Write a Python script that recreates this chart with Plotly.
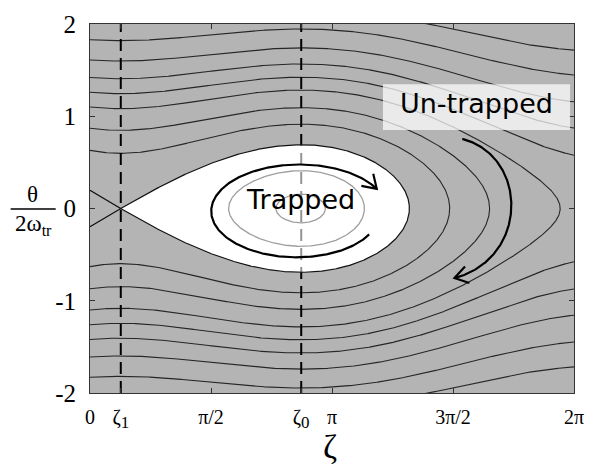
import numpy as np
import plotly.graph_objects as go

# ---------------- values ----------------
SIN_PHI_S = 0.389            # tilt of the bucket: zeta1 = phi_s, zeta0 = pi - phi_s
A_POT = 0.513                # bucket depth in units of (2 w_tr)^2
# untrapped contour levels, given by theta/(2w_tr) at zeta = 0 (symmetric +/-)
OUTER_Y0 = [2.05, 1.83, 1.61, 1.42, 1.26, 1.10, 0.87, 0.63]
# trapped contour levels, given by their half height at zeta0
INNER_YC = [0.41, 0.155]
Y_TICKS = [-2, -1, 0, 1, 2]
Y_TICK_TEXT = ["-2", "-1", "0", "1", "2"]
X_TICK_TEXT = ["0", "ζ<sub><span style='font-size:17px'>1</span></sub>", "π/2",
               "ζ<sub><span style='font-size:17px'>0</span></sub>", "π", "3π/2", "2π"]

PHI_S = np.arcsin(SIN_PHI_S)
ZETA1 = PHI_S
ZETA0 = np.pi - PHI_S
TWO_PI = 2 * np.pi
X_TICKS = [0, ZETA1, np.pi / 2, ZETA0, np.pi, 1.5 * np.pi, TWO_PI]

# ---------------- layout geometry ----------------
W, H_FIG = 595, 472
ML, MR, MT, MB = 90, 11, 14, 79
PL, PR, PT, PB = ML, W - MR, MT, H_FIG - MB


def V(z):
    return np.cos(z) + z * SIN_PHI_S


def level(y, z):
    return y ** 2 + A_POT * V(z)


def ycurve(Hl, z):
    return np.sqrt(np.clip(Hl - A_POT * V(z), 0, None))


def root(Hl, lo, hi):
    g = lambda z: Hl - A_POT * V(z)
    glo = g(lo)
    for _ in range(100):
        mid = 0.5 * (lo + hi)
        if np.sign(g(mid)) == np.sign(glo):
            lo = mid
        else:
            hi = mid
    return 0.5 * (lo + hi)


def px2d(px, py):
    return (px - PL) / (PR - PL) * TWO_PI, 2 - (py - PT) / (PB - PT) * 4


def px2paper(px, py):
    return (px - PL) / (PR - PL), (PB - py) / (PB - PT)


# ---------------- contour geometry ----------------
ox, oy = [], []
for y0 in OUTER_Y0:
    Hl = level(y0, 0.0)
    if Hl - A_POT * V(TWO_PI) < 0:
        zt = root(Hl, ZETA0, TWO_PI)
        s = np.linspace(0, 1, 500)
        z = zt * (1 - (1 - s) ** 2)
        yu = ycurve(Hl, z)
        ox += list(z) + list(z[::-1]) + [None]
        oy += list(yu) + list(-yu[::-1]) + [None]
    else:
        z = np.linspace(0, TWO_PI, 600)
        yu = ycurve(Hl, z)
        ox += list(z) + [None] + list(z) + [None]
        oy += list(yu) + [None] + list(-yu) + [None]

HS = A_POT * V(ZETA1)
TIP = root(HS, ZETA0, TWO_PI)
zl = np.linspace(0, ZETA1, 120)
s = np.linspace(0, 1, 700)
zr = TIP - (TIP - ZETA1) * (1 - s) ** 2
ysl = ycurve(HS, zl)
ysr = ycurve(HS, zr)
sep_x = list(zl) + list(zr[1:]) + list(zr[::-1][1:]) + list(zl[::-1])
sep_y = list(ysl) + list(ysr[1:]) + list(-ysr[::-1][1:]) + list(-ysl[::-1])
in_x = list(zr) + list(zr[::-1])
in_y = list(ysr) + list(-ysr[::-1])

ix, iy = [], []
for yc in INNER_YC:
    Hl = level(yc, ZETA0)
    zL = root(Hl, ZETA1, ZETA0)
    zR = root(Hl, ZETA0, TIP)
    ph = np.linspace(0, np.pi, 300)
    z = zL + (zR - zL) * (1 - np.cos(ph)) / 2
    yu = ycurve(Hl, z)
    ix += list(z) + list(z[::-1]) + [None]
    iy += list(yu) + list(-yu[::-1]) + [None]

# ---------------- decorations (pixel geometry) ----------------
def arrowhead(tip, d, L=16, ang=33):
    d = np.array(d, float)
    d /= np.linalg.norm(d)
    pts = []
    for sgn in (1, -1):
        a = np.radians(sgn * ang)
        R = np.array([[np.cos(a), -np.sin(a)], [np.sin(a), np.cos(a)]])
        b = R @ (-d)
        pts.append((tip[0] + L * b[0], tip[1] + L * b[1]))
    return [pts[0], tip, pts[1]]

# trapped arc (pixel space, y down)
cx, cy, rx, ry = 303.6, 206.7, 90.3, 48.4
a0, a1 = np.radians(-31.4), np.radians(-331.1)
u = np.linspace(0, 1, 300)
a = a0 + (a1 - a0) * u
sc = 1 - 0.074 * (1 - u) ** 4
tpx = cx + sc * rx * np.cos(a)
tpy = cy - sc * ry * np.sin(a)
dtr = (rx * np.sin(a1), ry * np.cos(a1))
trap_head = arrowhead((tpx[-1], tpy[-1]), dtr)

# untrapped arrow as cubic bezier (pixel space)
P = np.array([(470, 132), (538, 150), (538, 255), (462, 275)], float)
t = np.linspace(0, 1, 200)[:, None]
B = ((1 - t) ** 3) * P[0] + 3 * ((1 - t) ** 2) * t * P[1] + 3 * (1 - t) * t ** 2 * P[2] + t ** 3 * P[3]
untrap_head = arrowhead(tuple(P[3]), P[3] - P[2])


def to_data(xs, ys):
    out = [px2d(x, y) for x, y in zip(xs, ys)]
    return [o[0] for o in out], [o[1] for o in out]

fig = go.Figure()
# white trapped region (opaque)
fig.add_trace(go.Scatter(x=in_x, y=in_y, fill="toself", fillcolor="white",
                         line=dict(width=0), mode="lines", hoverinfo="skip"))
# untrapped contours
fig.add_trace(go.Scatter(x=ox, y=oy, mode="lines",
                         line=dict(color="#262626", width=1.1), hoverinfo="skip"))
# trapped contours
fig.add_trace(go.Scatter(x=ix, y=iy, mode="lines",
                         line=dict(color="#1a1a1a", width=1.3), hoverinfo="skip"))
# dashed reference lines
for zz in (ZETA1, ZETA0):
    fig.add_trace(go.Scatter(x=[zz, zz], y=[-2, 2], mode="lines",
                             line=dict(color="black", width=2, dash="12px,7px"),
                             hoverinfo="skip"))
# translucent white veil over trapped region
fig.add_trace(go.Scatter(x=in_x, y=in_y, fill="toself",
                         fillcolor="rgba(255,255,255,0.58)",
                         line=dict(width=0), mode="lines", hoverinfo="skip"))
# separatrix
fig.add_trace(go.Scatter(x=sep_x, y=sep_y, mode="lines",
                         line=dict(color="#111111", width=1.2), hoverinfo="skip"))
# arrows
for xs_, ys_ in [(tpx, tpy), ([p[0] for p in trap_head], [p[1] for p in trap_head]),
                 (B[:, 0], B[:, 1]),
                 ([p[0] for p in untrap_head], [p[1] for p in untrap_head])]:
    dx, dy = to_data(xs_, ys_)
    fig.add_trace(go.Scatter(x=dx, y=dy, mode="lines",
                             line=dict(color="black", width=2.2),
                             hoverinfo="skip"))

# Un-trapped label box
bx0, by0 = px2d(389, 123)
bx1, by1 = px2d(580, 76)
shapes = [dict(type="rect", xref="x", yref="y", x0=bx0, x1=bx1, y0=by0, y1=by1,
               fillcolor="rgba(255,255,255,0.72)", line=dict(width=0), layer="above")]
# fraction bar of y title
fx0, fy = px2paper(9, 204)
fx1, _ = px2paper(55, 204)
shapes.append(dict(type="line", xref="paper", yref="paper", x0=fx0, x1=fx1,
                   y0=fy, y1=fy, line=dict(color="black", width=1.3)))

serif = "Liberation Serif"
sans = "DejaVu Sans"
annotations = []


def ann(text, px, py, size, family, **kw):
    xp, yp = px2paper(px, py)
    d = dict(text=text, x=xp, y=yp, xref="paper", yref="paper", showarrow=False,
             xanchor="center", yanchor="middle",
             font=dict(family=family, size=size, color="black"))
    d.update(kw)
    annotations.append(d)

ann("Trapped", 305, 194, 27, sans)
ann("Un-trapped", 484.5, 96, 27, sans)
ann("θ", 31, 189, 23, serif)
ann("2ω<sub>tr</sub>", 32, 220, 23, serif)
ann("ζ", 335, 448, 34, serif)

fig.update_layout(
    width=W, height=H_FIG,
    margin=dict(l=ML, r=MR, t=MT, b=MB),
    paper_bgcolor="white", plot_bgcolor="#b4b4b4",
    showlegend=False,
    shapes=shapes, annotations=annotations,
    xaxis=dict(range=[0, TWO_PI], tickvals=X_TICKS, ticktext=X_TICK_TEXT,
               ticks="inside", ticklen=5, tickcolor="#333", showgrid=False,
               zeroline=False, showline=True, mirror="ticks", linecolor="#333",
               linewidth=1, tickfont=dict(family=serif, size=20, color="black"),
               ticklabelstandoff=6),
    yaxis=dict(range=[-2, 2], tickvals=Y_TICKS, ticktext=Y_TICK_TEXT,
               ticks="inside", ticklen=5, tickcolor="#333", showgrid=False,
               zeroline=False, showline=True, mirror="ticks", linecolor="#333",
               linewidth=1, tickfont=dict(family=serif, size=25, color="black"),
               ticklabelstandoff=8),
)

fig.write_html("out.html")
